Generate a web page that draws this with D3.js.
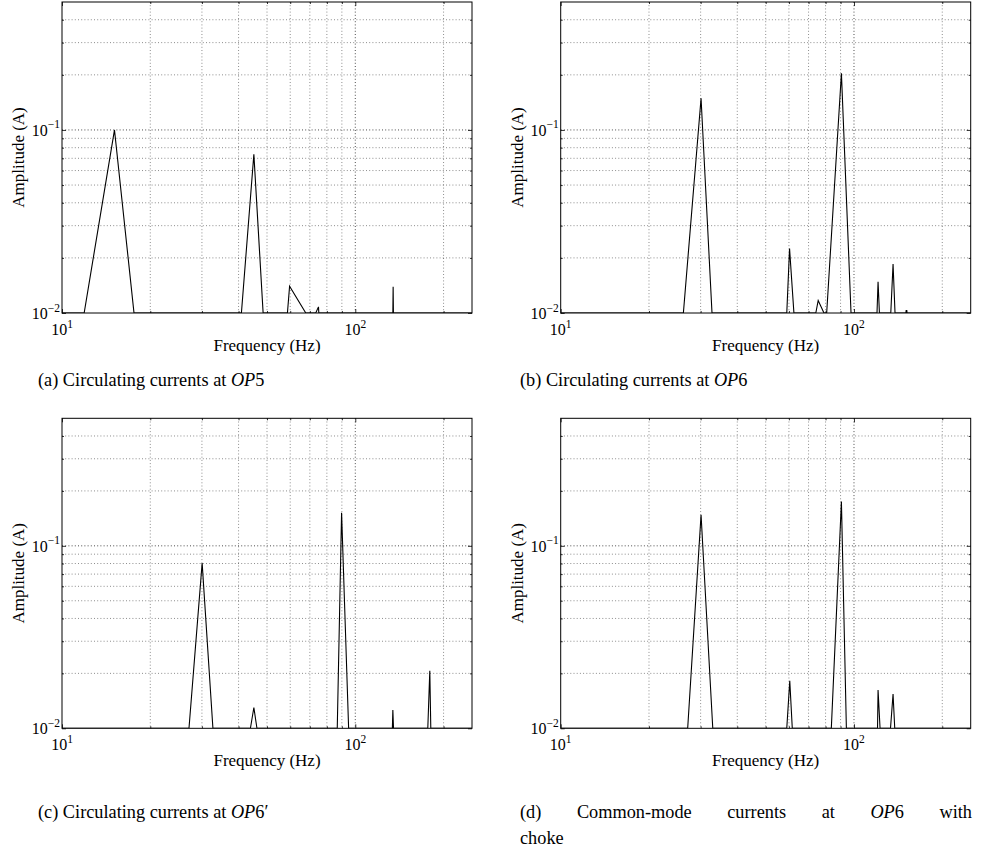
<!DOCTYPE html>
<html>
<head>
<meta charset="utf-8">
<script src="https://cdn.jsdelivr.net/npm/d3@7"></script>
<style>
  body { margin: 0; background: #fff; }
  svg { display: block; }
  text { font-family: "Liberation Serif", "Times New Roman", serif; fill: #000; }
</style>
</head>
<body>
<svg id="fig" width="991" height="848"></svg>
<script>
// spectrum vertices (Hz, A); 0.01 = where the trace meets the bottom of the axes
const freqA = [10, 11.9, 15.1, 17.6, 40.9, 45.1, 48.5, 58.7, 59.7, 67.8, 73.3, 74.9, 75.1, 134.3, 134.6, 134.9, 250];
const ampA  = [0.01, 0.01, 0.1, 0.01, 0.01, 0.0737, 0.01, 0.01, 0.014, 0.01, 0.01, 0.0108, 0.01, 0.01, 0.0139, 0.01, 0.01];

const freqB = [10, 26.2, 30.1, 32.8, 59.0, 60.3, 62.4, 74.1, 75.5, 79.0, 80.7, 90.6, 97.7, 119.8, 120.8, 122.1, 133.5, 135.9, 138.0, 150.3, 150.6, 151.4, 151.7, 250];
const ampB  = [0.01, 0.01, 0.149, 0.01, 0.01, 0.0225, 0.01, 0.01, 0.0117, 0.01, 0.01, 0.204, 0.01, 0.01, 0.0148, 0.01, 0.01, 0.0185, 0.01, 0.01, 0.0103, 0.0103, 0.01, 0.01];

const freqC = [10, 27.1, 30.05, 32.7, 43.9, 45.1, 46.2, 86.8, 89.8, 94.9, 133.8, 134.3, 135.0, 176.7, 179.5, 180.9, 250];
const ampC  = [0.01, 0.01, 0.0804, 0.01, 0.01, 0.013, 0.01, 0.01, 0.152, 0.01, 0.01, 0.0126, 0.01, 0.01, 0.0207, 0.01, 0.01];

const freqD = [10, 27.1, 30.1, 33.0, 59.0, 60.4, 61.6, 83.7, 90.6, 94.2, 120.3, 120.8, 122.7, 133.2, 135.9, 137.7, 250];
const ampD  = [0.01, 0.01, 0.148, 0.01, 0.01, 0.0182, 0.01, 0.01, 0.175, 0.01, 0.01, 0.0162, 0.01, 0.01, 0.0154, 0.01, 0.01];

const freqDomain = [10, 250];
const ampDomain = [0.01, 0.5];
const xMajor = [10, 100];
const xMinor = [20, 30, 40, 50, 60, 70, 80, 90, 200];
const yMajor = [0.01, 0.1];
const yMinor = [0.02, 0.03, 0.04, 0.05, 0.06, 0.07, 0.08, 0.09, 0.2, 0.3, 0.4];

const xLabel = "Frequency (Hz)";
const yLabel = "Amplitude (A)";

const svg = d3.select("#fig");

const panels = [
  {id: "a", x: 62,    y: 2,     w: 410, h: 311, f: freqA, a: ampA},
  {id: "b", x: 560.7, y: 2,     w: 410, h: 311, f: freqB, a: ampB},
  {id: "c", x: 62,    y: 418.3, w: 410, h: 310, f: freqC, a: ampC},
  {id: "d", x: 560.7, y: 418.3, w: 410, h: 310, f: freqD, a: ampD}
];

function supLabel(sel, base, exp) {
  sel.append("tspan").text(base);
  sel.append("tspan").attr("font-size", 11.5).attr("dy", -7.5).text(exp);
}

function expOf(v) {
  const e = Math.round(Math.log10(v));
  return e < 0 ? "\u2212" + (-e) : String(e);
}

panels.forEach(p => {
  const x = d3.scaleLog().domain(freqDomain).range([0, p.w]);
  const y = d3.scaleLog().domain(ampDomain).range([p.h, 0]);

  const g = svg.append("g").attr("transform", `translate(${p.x},${p.y})`);

  g.append("clipPath").attr("id", "clip-" + p.id)
    .append("rect").attr("width", p.w).attr("height", p.h);

  // dotted grid
  const grid = g.append("g");
  grid.selectAll(".gx").data(xMinor.concat([100])).enter().append("line")
    .attr("x1", d => x(d)).attr("x2", d => x(d))
    .attr("y1", 0).attr("y2", p.h)
    .attr("stroke", "#000").attr("stroke-opacity", d => d === 100 ? 0.7 : 0.45)
    .attr("stroke-width", 1).attr("stroke-dasharray", "1,2.2");
  grid.selectAll(".gy").data(yMinor.concat([0.1])).enter().append("line")
    .attr("y1", d => y(d)).attr("y2", d => y(d))
    .attr("x1", 0).attr("x2", p.w)
    .attr("stroke", "#000").attr("stroke-opacity", d => d === 0.1 ? 0.7 : 0.45)
    .attr("stroke-width", 1).attr("stroke-dasharray", "1,2.2");

  // inward ticks on all four sides
  const tickSets = [
    [d3.axisBottom(x), `translate(0,${p.h})`, xMajor, 4],
    [d3.axisBottom(x), `translate(0,${p.h})`, xMinor, 2],
    [d3.axisTop(x), null, xMajor, 4],
    [d3.axisTop(x), null, xMinor, 2],
    [d3.axisLeft(y), null, yMajor, 4],
    [d3.axisLeft(y), null, yMinor, 2],
    [d3.axisRight(y), `translate(${p.w},0)`, yMajor, 4],
    [d3.axisRight(y), `translate(${p.w},0)`, yMinor, 2]
  ];
  tickSets.forEach(([ax, tr, vals, len]) => {
    const t = g.append("g")
      .call(ax.tickValues(vals).tickSize(-len).tickFormat(""));
    if (tr) t.attr("transform", tr);
    t.select(".domain").remove();
    t.selectAll("line").attr("stroke", "#000").attr("stroke-width", 0.8);
  });

  // spectrum trace
  const pts = p.f.map((f, i) => ({f: f, a: p.a[i]}));
  g.append("path")
    .datum(pts)
    .attr("clip-path", `url(#clip-${p.id})`)
    .attr("fill", "none")
    .attr("stroke", "#000")
    .attr("stroke-width", 1.1)
    .attr("stroke-linejoin", "miter")
    .attr("d", d3.line().x(d => x(d.f)).y(d => y(d.a)));

  // box
  g.append("rect").attr("width", p.w).attr("height", p.h)
    .attr("fill", "none").attr("stroke", "#000").attr("stroke-width", 1);

  // tick labels
  g.selectAll(".xl").data(xMajor).enter().append("text")
    .attr("x", d => x(d)).attr("y", p.h + 22)
    .attr("text-anchor", "middle").attr("font-size", 16)
    .each(function(d) { supLabel(d3.select(this), "10", expOf(d)); });
  g.selectAll(".yl").data(yMajor).enter().append("text")
    .attr("x", -2).attr("y", d => y(d) + 6)
    .attr("text-anchor", "end").attr("font-size", 16)
    .each(function(d) { supLabel(d3.select(this), "10", expOf(d)); });

  // axis titles
  g.append("text")
    .attr("x", p.w / 2).attr("y", p.h + 38)
    .attr("text-anchor", "middle").attr("font-size", 17)
    .text(xLabel);
  g.append("text")
    .attr("transform", `translate(-38,${p.h / 2}) rotate(-90)`)
    .attr("text-anchor", "middle").attr("font-size", 17)
    .text(yLabel);
});

// sub-captions
function caption(xPos, yPos, parts) {
  const t = svg.append("text").attr("x", xPos).attr("y", yPos).attr("font-size", 18.3);
  parts.forEach(([s, it]) => {
    t.append("tspan").attr("font-style", it ? "italic" : null).text(s);
  });
  return t;
}

caption(38, 386, [["(a) Circulating currents at ", false], ["OP", true], ["5", false]]);
caption(520, 386, [["(b) Circulating currents at ", false], ["OP", true], ["6", false]]);
caption(38, 818, [["(c) Circulating currents at ", false], ["OP", true], ["6\u2032", false]]);

// (d) is justified across its column, then wraps
const dWords = [
  [["(d)", false]],
  [["Common-mode", false]],
  [["currents", false]],
  [["at", false]],
  [["OP", true], ["6", false]],
  [["with", false]]
];
const dLeft = 520, dRight = 972;
const dTexts = dWords.map(w => caption(0, 818, w));
const widths = dTexts.map(t => t.node().getComputedTextLength());
const gap = (dRight - dLeft - d3.sum(widths)) / (dWords.length - 1);
let cx = dLeft;
dTexts.forEach((t, i) => { t.attr("x", cx); cx += widths[i] + gap; });
caption(520, 844, [["choke", false]]);
</script>
</body>
</html>
